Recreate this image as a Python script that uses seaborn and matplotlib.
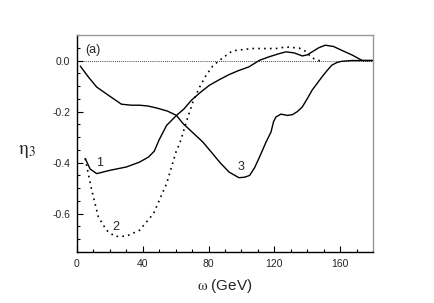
import matplotlib
matplotlib.use("Agg")
import matplotlib.pyplot as plt
import seaborn as sns
import pandas as pd
from matplotlib.ticker import MultipleLocator

sns.set_style("ticks")
plt.rcParams['font.family'] = ['Liberation Sans', 'DejaVu Sans']
plt.rcParams['mathtext.fontset'] = 'stix'

# curve 1 (solid)
x1 = [5, 8, 12, 20, 30, 38, 43.5, 47, 50, 54.5, 60.5, 65, 69.5, 75, 80.5, 86, 92.5, 98, 104.5, 111, 117, 123, 127, 132, 137, 140, 143, 147, 151, 156, 161, 167.5, 173.5, 180]
y1 = [-0.384, -0.425, -0.443, -0.43, -0.417, -0.398, -0.378, -0.355, -0.31, -0.254, -0.215, -0.19, -0.156, -0.125, -0.097, -0.077, -0.055, -0.04, -0.025, 0.001, 0.015, 0.027, 0.034, 0.03, 0.018, 0.022, 0.034, 0.05, 0.06, 0.055, 0.04, 0.021, 0.0, 0.0]
# curve 2 (dotted)
x2 = [5, 9, 13, 18, 23, 30, 38, 46.5, 54.5, 60.5, 62.5, 66.5, 70.5, 74.5, 78.5, 82.5, 86.5, 94.5, 106.5, 121, 127, 135, 139, 143, 147, 150]
y2 = [-0.384, -0.509, -0.613, -0.665, -0.689, -0.688, -0.665, -0.6, -0.482, -0.352, -0.325, -0.24, -0.162, -0.105, -0.058, -0.022, 0.0, 0.038, 0.047, 0.047, 0.053, 0.049, 0.036, 0.01, 0.0, 0.0]
# curve 3 (solid)
x3 = [2, 7, 12, 20, 27, 33, 38, 43, 48.5, 55, 60.5, 64.5, 70, 76.5, 82.5, 87, 92.5, 98.5, 102, 105, 108, 111, 115, 118, 119.5, 121, 124, 128, 131, 134, 137, 140, 143, 146, 149, 152, 155, 158, 161, 167, 180]
y3 = [-0.022, -0.065, -0.104, -0.14, -0.171, -0.175, -0.175, -0.178, -0.186, -0.198, -0.215, -0.247, -0.28, -0.319, -0.365, -0.4, -0.437, -0.459, -0.457, -0.45, -0.42, -0.378, -0.319, -0.28, -0.24, -0.221, -0.21, -0.215, -0.212, -0.2, -0.182, -0.15, -0.116, -0.09, -0.064, -0.04, -0.018, -0.008, -0.003, 0.0, 0.0]

labels = ["1", "2", "3"]
label_x = [14, 23.6, 99.8]
label_y = [-0.4, -0.654, -0.417]

df = pd.concat([
    pd.DataFrame({"w": x1, "eta": y1, "curve": "1"}),
    pd.DataFrame({"w": x2, "eta": y2, "curve": "2"}),
    pd.DataFrame({"w": x3, "eta": y3, "curve": "3"}),
])

fig = plt.figure(figsize=(4.34, 3.03), dpi=100)
ax = fig.add_axes([0.1774, 0.1683, 0.6820, 0.7162])

sns.lineplot(data=df[df.curve == "1"], x="w", y="eta", color="black", lw=1.0, ax=ax, sort=False, estimator=None)
sns.lineplot(data=df[df.curve == "2"], x="w", y="eta", color="black", lw=1.2, ax=ax, sort=False, estimator=None, linestyle=(0, (1, 2.5)))
sns.lineplot(data=df[df.curve == "3"], x="w", y="eta", color="black", lw=1.0, ax=ax, sort=False, estimator=None)
ax.axhline(0, color="black", lw=0.6, linestyle=(0, (1, 1.5)))

for t, lx, ly in zip(labels, label_x, label_y):
    ax.text(lx, ly, t, fontsize=9, ha="center", va="center")
ax.text(9.5, 0.043, "(a)", fontsize=9, ha="center", va="center")

ax.set_xlim(0, 180)
ax.set_ylim(-0.75, 0.1)
ax.xaxis.set_major_locator(MultipleLocator(40))
ax.xaxis.set_minor_locator(MultipleLocator(10))
ax.yaxis.set_minor_locator(MultipleLocator(0.05))
ax.set_yticks([0.0, -0.2, -0.4, -0.6])
ax.set_yticklabels(["0.0", "-0.2", "-0.4", "-0.6"])
ax.tick_params(which="both", direction="in", labelsize=7.5, width=0.8, color="black", pad=5)
ax.tick_params(which="major", length=4)
ax.tick_params(which="minor", length=2.5)
for s in ["left", "bottom"]:
    ax.spines[s].set_color("black")
    ax.spines[s].set_linewidth(1.0)
for s in ["top", "right"]:
    ax.spines[s].set_color("#999999")
    ax.spines[s].set_linewidth(1.0)

ax.set_xlabel(r"$\mathrm{\omega}$ (GeV)", fontsize=11, labelpad=6)
ax.set_ylabel("")
fig.text(27/434, 1 - 152/303, r"$\mathrm{\eta}_3$", fontsize=14, ha="center", va="center")

fig.savefig("out.png", dpi=100)
